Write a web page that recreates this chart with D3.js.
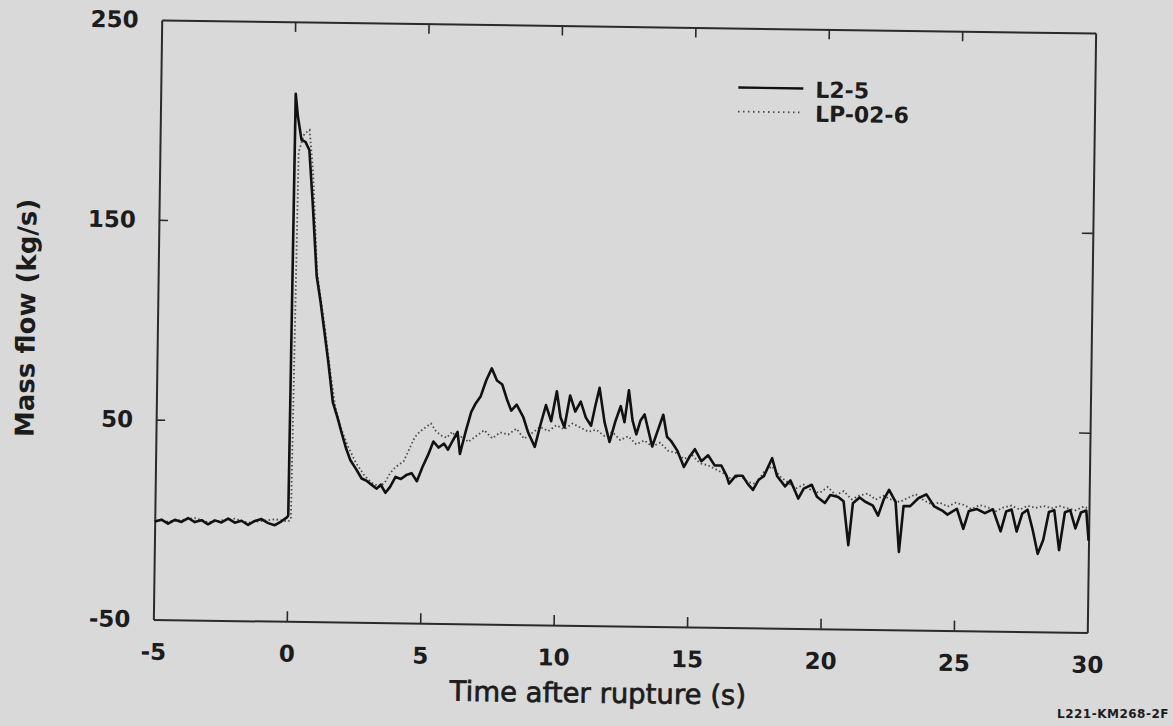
<!DOCTYPE html>
<html>
<head>
<meta charset="utf-8">
<script src="https://cdn.jsdelivr.net/npm/d3@7"></script>
<style>
  html, body { margin: 0; padding: 0; background: #d9d9d9; }
  svg { display: block; }
</style>
</head>
<body>
<div id="chart"></div>
<script>
// L2-5 (solid) — time (s) and mass flow (kg/s)
const l25Time = [-5, -4.75, -4.5, -4.25, -4, -3.75, -3.5, -3.25, -3, -2.75, -2.5, -2.25, -2, -1.75, -1.5, -1.25, -1, -0.75, -0.5, -0.25, -0.05,
  0.0, 0.06, 0.15, 0.3, 0.45, 0.6, 0.75, 0.94, 1.1, 1.24, 1.42, 1.61, 1.8, 1.95, 2.13, 2.3, 2.5, 2.73, 2.9, 3.1, 3.3, 3.45, 3.63, 3.8,
  4.0, 4.2, 4.4, 4.6, 4.8, 5.0, 5.2, 5.4, 5.6, 5.8, 5.95, 6.1, 6.3, 6.4, 6.6, 6.8, 6.95, 7.15, 7.35, 7.55, 7.75, 7.95, 8.15, 8.3, 8.5,
  8.75, 8.95, 9.2, 9.4, 9.6, 9.8, 10.0, 10.15, 10.3, 10.5, 10.7, 10.9, 11.1, 11.3, 11.45, 11.6, 11.8, 12.0, 12.2, 12.4, 12.55, 12.7,
  12.85, 13.0, 13.15, 13.3, 13.45, 13.6, 13.8, 14.0, 14.15, 14.3, 14.55, 14.8, 15.0, 15.2, 15.45, 15.7, 15.95, 16.2, 16.4, 16.5, 16.75,
  17.0, 17.2, 17.4, 17.6, 17.8, 18.1, 18.3, 18.6, 18.8, 19.1, 19.3, 19.6, 19.8, 20.1, 20.3, 20.6, 20.8, 21.0, 21.15, 21.4, 21.6, 21.9,
  22.1, 22.3, 22.5, 22.75, 22.9, 23.05, 23.3, 23.6, 23.9, 24.2, 24.5, 24.7, 25.05, 25.3, 25.5, 25.8, 26.1, 26.4, 26.7, 26.9, 27.1, 27.3,
  27.5, 27.7, 27.9, 28.1, 28.3, 28.5, 28.7, 28.9, 29.1, 29.3, 29.5, 29.7, 29.9, 30]
const l25Flow = [-1, 0, -2, 0, -1, 1, -1, 0, -2, 0, -1, 1, -1, 0, -2, 0, 1, -1, -2, 0, 2,
  3, 214, 203, 191, 190, 186, 160, 123, 110, 97, 80, 60, 52, 45, 37, 31, 27, 22, 21, 19, 17, 19, 15, 18,
  23, 22, 24, 25, 21, 28, 34, 41, 38, 40, 37, 41, 46, 35, 46, 56, 60, 64, 72, 78, 72, 70, 62, 57, 60,
  54, 46, 39, 50, 60, 52, 67, 54, 49, 65, 57, 62, 54, 50, 60, 69, 52, 42, 52, 60, 52, 68,
  53, 46, 53, 56, 48, 40, 48, 56, 45, 43, 38, 30, 35, 39, 33, 36, 31, 31, 26, 22, 26,
  26, 22, 19, 24, 26, 35, 26, 21, 24, 15, 20, 22, 16, 13, 17, 16, 14, -8, 13, 16, 14, 12,
  7, 15, 20, 14, -11, 12, 12, 16, 18, 12, 10, 8, 11, 1, 10, 11, 9, 11, 0, 10, 11, 0,
  9, 11, 1, -11, -4, 10, 11, -9, 10, 11, 2, 10, 11, -4]

// LP-02-6 (dotted)
const lp026Time = [-5, -4.5, -4, -3.5, -3, -2.5, -2, -1.5, -1, -0.5, 0, 0.1, 0.2, 0.4, 0.6, 0.75, 0.95, 1.1, 1.3, 1.5, 1.7, 1.9,
  2.2, 2.5, 2.8, 3.1, 3.4, 3.6, 3.8, 4.0, 4.3, 4.5, 4.7, 4.9, 5.1, 5.3, 5.5, 5.7, 5.9, 6.1, 6.3, 6.5, 6.7, 7.0, 7.3, 7.6, 7.9,
  8.2, 8.5, 8.8, 9.1, 9.4, 9.7, 10.0, 10.3, 10.6, 10.9, 11.2, 11.5, 11.8, 12.1, 12.4, 12.7, 13.0, 13.3, 13.6, 13.9, 14.2, 14.5,
  14.8, 15.1, 15.4, 15.7, 16.0, 16.3, 16.6, 16.9, 17.2, 17.5, 17.8, 18.1, 18.4, 18.7, 19.0, 19.3, 19.6, 19.9, 20.2, 20.5, 20.8,
  21.1, 21.4, 21.7, 22.0, 22.3, 22.6, 22.9, 23.2, 23.5, 23.8, 24.1, 24.4, 24.7, 25.0, 25.3, 25.6, 25.9, 26.2, 26.5, 26.8, 27.1,
  27.4, 27.7, 28.0, 28.3, 28.6, 28.9, 29.2, 29.5, 29.8, 30]
const lp026Flow = [0, -1, 0, 1, -1, 0, 1, -1, 0, 1, 0, 1, 185, 194, 196, 175, 125, 112, 95, 75, 58, 48,
  38, 30, 24, 20, 18, 20, 25, 28, 31, 37, 43, 46, 48, 50, 46, 44, 43, 46, 42, 44, 41, 44, 47, 43, 46,
  45, 48, 43, 46, 49, 47, 50, 48, 51, 49, 47, 48, 45, 47, 43, 45, 41, 43, 40, 42, 38, 37,
  34, 36, 32, 31, 29, 27, 24, 26, 23, 22, 28, 31, 26, 23, 20, 22, 19, 18, 21, 17, 19,
  15, 17, 18, 15, 17, 15, 14, 16, 18, 15, 13, 14, 12, 14, 13, 11, 13, 12, 10, 12, 13,
  11, 13, 12, 13, 12, 13, 12, 11, 13, 12]

const legendLabels = ["L2-5", "LP-02-6"]
const xTicks = [-5, 0, 5, 10, 15, 20, 25, 30]
const yTicks = [-50, 50, 150, 250]

const width = 1173
const height = 726
const margin = ({top: 26.5, right: 81.5, bottom: 100, left: 157.5})
const ink = "#1c1c1c"
const font = "DejaVu Sans, Verdana, sans-serif"

const svg = d3.select("#chart").append("svg")
  .attr("width", width)
  .attr("height", height)
  .attr("viewBox", [0, 0, width, height])

svg.append("rect").attr("width", width).attr("height", height).attr("fill", "#d9d9d9")

// the scan is slightly tilted, so the whole figure is rotated a little
const g = svg.append("g")
  .attr("transform", `rotate(0.8, ${(margin.left + width - margin.right) / 2}, ${(margin.top + height - margin.bottom) / 2})`)

const x = d3.scaleLinear()
  .domain([-5, 30])
  .range([margin.left, width - margin.right])

const y = d3.scaleLinear()
  .domain([-50, 250])
  .range([height - margin.bottom, margin.top])

const fmt = d => d < 0 ? "-" + Math.abs(d) : String(d)

function styleAxis(sel) {
  sel.select(".domain").attr("stroke", "#2a2a2a").attr("stroke-width", 2)
  sel.selectAll(".tick line").attr("stroke", "#2a2a2a").attr("stroke-width", 1.6)
  sel.selectAll(".tick text")
    .attr("fill", ink)
    .attr("font-family", font)
    .attr("font-weight", "bold")
    .attr("font-size", 23)
}

g.append("g")
  .attr("transform", `translate(0,${height - margin.bottom})`)
  .call(d3.axisBottom(x).tickValues(xTicks).tickFormat(fmt).tickSizeInner(-10).tickSizeOuter(0).tickPadding(24))
  .call(styleAxis)
  .call(a => a.selectAll(".tick").filter(d => d === -5 || d === 30).select("line").remove())

g.append("g")
  .attr("transform", `translate(0,${margin.top})`)
  .call(d3.axisTop(x).tickValues(xTicks.slice(1, -1)).tickFormat("").tickSizeInner(-10).tickSizeOuter(0))
  .call(styleAxis)

g.append("g")
  .attr("transform", `translate(${margin.left},0)`)
  .call(d3.axisLeft(y).tickValues(yTicks).tickFormat(fmt).tickSizeInner(-9).tickSizeOuter(0).tickPadding(23))
  .call(styleAxis)
  .call(a => a.selectAll(".tick").filter(d => d === -50 || d === 250).select("line").remove())

g.append("g")
  .attr("transform", `translate(${width - margin.right},0)`)
  .call(d3.axisRight(y).tickValues([50, 150]).tickFormat("").tickSizeInner(-11).tickSizeOuter(0))
  .call(styleAxis)

// axis titles
g.append("text")
  .attr("x", 603)
  .attr("y", height - 23)
  .attr("text-anchor", "middle")
  .attr("font-family", font)
  .attr("font-size", 27.5)
  .attr("fill", ink)
  .attr("stroke", ink)
  .attr("stroke-width", 0.7)
  .text("Time after rupture (s)")

g.append("text")
  .attr("transform", `translate(35,${y(100)}) rotate(-90)`)
  .attr("text-anchor", "middle")
  .attr("font-family", font)
  .attr("font-weight", "bold")
  .attr("font-size", 26)
  .attr("fill", ink)
  .text("Mass flow (kg/s)")

// data lines
const line = d3.line()
  .x(d => x(d[0]))
  .y(d => y(d[1]))

const dotted = d3.zip(lp026Time, lp026Flow)
const solid = d3.zip(l25Time, l25Flow)

g.append("path")
  .datum(dotted)
  .attr("fill", "none")
  .attr("stroke", "#4a4a4a")
  .attr("stroke-width", 1.8)
  .attr("stroke-dasharray", "1.5,2.5")
  .attr("d", line)

g.append("path")
  .datum(solid)
  .attr("fill", "none")
  .attr("stroke", "#111")
  .attr("stroke-width", 2.6)
  .attr("stroke-linejoin", "round")
  .attr("d", line)

// legend
const legend = g.append("g").attr("transform", "translate(735,0)")
legendLabels.forEach((label, i) => {
  const ly = 86 + i * 24
  legend.append("line")
    .attr("x1", 0).attr("x2", 65)
    .attr("y1", ly).attr("y2", ly)
    .attr("stroke", i === 0 ? "#111" : "#4a4a4a")
    .attr("stroke-width", i === 0 ? 2.4 : 1.8)
    .attr("stroke-dasharray", i === 0 ? null : "1.5,3.5")
  legend.append("text")
    .attr("x", 77).attr("y", ly + 9)
    .attr("font-family", font)
    .attr("font-weight", "bold")
    .attr("font-size", 22)
    .attr("fill", ink)
    .text(label)
})

// figure id in the corner
svg.append("text")
  .attr("x", 1169).attr("y", 718)
  .attr("text-anchor", "end")
  .attr("font-family", font)
  .attr("font-weight", "bold")
  .attr("font-size", 12)
  .attr("letter-spacing", 0.5)
  .attr("fill", ink)
  .text("L221-KM268-2F")
</script>
</body>
</html>
